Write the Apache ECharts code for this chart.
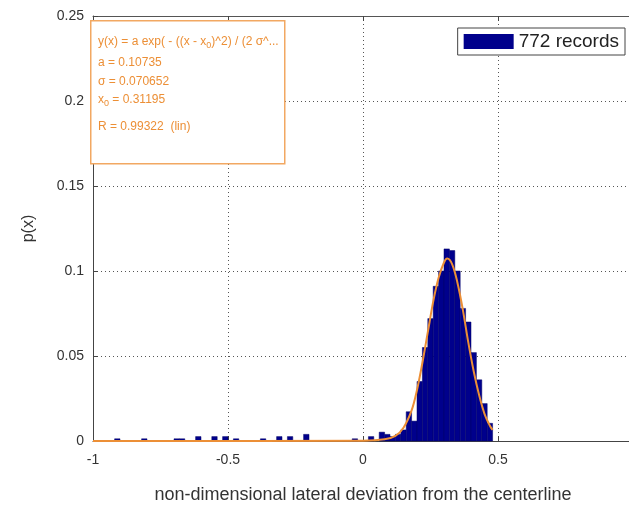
<!DOCTYPE html>
<html>
<head>
<meta charset="utf-8">
<script src="https://cdn.jsdelivr.net/npm/echarts@6/dist/echarts.min.js"></script>
<style>
html, body { margin: 0; padding: 0; background: #fff; }
#main { width: 629px; height: 505px; }
</style>
</head>
<body>
<div id="main"></div>
<script>
// histogram: left edge of each 0.02 wide bin and its probability
var binWidth = 0.02;
var binLeft = [-0.92, -0.82, -0.70, -0.68, -0.62, -0.56, -0.52, -0.48, -0.38, -0.32, -0.28, -0.22,
               -0.04, 0.02, 0.06, 0.08, 0.10, 0.12, 0.14, 0.16, 0.18, 0.20, 0.22, 0.24, 0.26,
               0.28, 0.30, 0.32, 0.34, 0.36, 0.38, 0.40, 0.42, 0.44, 0.46];
var binProb = [0.0013, 0.0013, 0.0013, 0.0013, 0.0026, 0.0026, 0.0026, 0.0013, 0.0013, 0.0026, 0.0026, 0.0039,
               0.0013, 0.0026, 0.0052, 0.0039, 0.0026, 0.0039, 0.0065, 0.0172, 0.0117, 0.035, 0.055, 0.072, 0.091,
               0.100, 0.113, 0.112, 0.100, 0.078, 0.070, 0.052, 0.036, 0.022, 0.0104];

// gaussian fit curve
var fitX = [-1, 0, 0.08, 0.12, 0.15, 0.18, 0.20, 0.22, 0.24, 0.26, 0.28, 0.30, 0.312,
            0.33, 0.35, 0.37, 0.39, 0.41, 0.43, 0.45, 0.47, 0.48];
var fitY = [0, 0.0002, 0.001, 0.003, 0.0078, 0.018, 0.030, 0.046, 0.064, 0.082, 0.096, 0.105, 0.1073,
            0.104, 0.093, 0.077, 0.058, 0.041, 0.027, 0.016, 0.009, 0.0065];

// fit annotation
var fitLines = [
    'y(x) = a exp( - ((x - x{s|0})^2) / (2 σ^...',
    'a = 0.10735',
    'σ = 0.070652',
    'x{s|0} = 0.31195',
    'R = 0.99322  (lin)'
];
var fitTops = [36, 57, 76, 94, 121];

var histName = '772 records';
var orange = '#ec8f36';
var navy = '#00008c';
var font = '"Liberation Sans", Arial, sans-serif';

var myChart = echarts.init(document.getElementById('main'));

var histData = binLeft.map(function (v, i) { return [v, binProb[i]]; });
var fitData = fitX.map(function (v, i) { return [v, fitY[i]]; });

var graphics = [{
    type: 'rect',
    left: 90, top: 20,
    shape: { width: 194, height: 143 },
    style: { fill: '#fff', stroke: '#f2a862', lineWidth: 1.5 },
    z: 100
}];
fitLines.forEach(function (t, i) {
    graphics.push({
        type: 'text',
        left: 98, top: fitTops[i],
        z: 101,
        style: {
            text: t,
            fill: orange,
            font: '12px ' + font,
            rich: { s: { fontSize: 9, fill: orange, fontFamily: font, padding: [8, 0, 0, 0] } }
        }
    });
});

var option = {
    backgroundColor: '#fff',
    animation: false,
    textStyle: { fontFamily: font },
    grid: { left: 93, right: -4, top: 16, bottom: 64, show: false, containLabel: false, outerBoundsMode: 'none' },
    legend: {
        data: [{ name: histName, icon: 'rect' }],
        right: 4, top: 28,
        itemWidth: 50, itemHeight: 15, itemGap: 4,
        padding: [4, 6, 4, 6],
        borderColor: '#444', borderWidth: 1,
        backgroundColor: '#fff',
        textStyle: { color: '#222', fontSize: 19, fontFamily: font }
    },
    xAxis: [{
        type: 'value', min: -1, max: 1, interval: 0.5,
        name: 'non-dimensional lateral deviation from the centerline',
        nameLocation: 'middle', nameGap: 45,
        nameTextStyle: { color: '#333', fontSize: 18 },
        axisLine: { show: true, onZero: false, lineStyle: { color: '#444' } },
        axisTick: { show: true, inside: true, length: 5, lineStyle: { color: '#444' } },
        axisLabel: { color: '#333', fontSize: 14, margin: 12 },
        splitLine: { show: true, lineStyle: { type: [1, 3], color: '#555' } }
    }, {
        type: 'value', min: -1, max: 1, interval: 0.5, position: 'top',
        axisLine: { show: true, onZero: false, lineStyle: { color: '#555' } },
        axisTick: { show: true, inside: true, length: 5, lineStyle: { color: '#444' } },
        axisLabel: { show: false },
        splitLine: { show: false }
    }],
    yAxis: {
        type: 'value', min: 0, max: 0.25, interval: 0.05,
        name: 'p(x)', nameLocation: 'middle', nameGap: 56, nameRotate: 90,
        nameTextStyle: { color: '#333', fontSize: 16 },
        axisLine: { show: true, onZero: false, lineStyle: { color: '#444' } },
        axisTick: { show: true, inside: true, length: 5, lineStyle: { color: '#444' } },
        axisLabel: { color: '#333', fontSize: 14, margin: 9 },
        splitLine: { show: true, lineStyle: { type: [1, 3], color: '#555' } }
    },
    graphic: graphics,
    series: [{
        name: histName,
        type: 'custom',
        itemStyle: { color: navy },
        data: histData,
        encode: { x: 0, y: 1 },
        renderItem: function (params, api) {
            var left = api.value(0);
            var top = api.coord([left, api.value(1)]);
            var bottom = api.coord([left + binWidth, 0]);
            return {
                type: 'rect',
                shape: { x: top[0], y: top[1], width: bottom[0] - top[0], height: bottom[1] - top[1] },
                style: { fill: navy, stroke: '#000066', lineWidth: 0.5 }
            };
        },
        z: 2
    }, {
        name: 'fit',
        type: 'line',
        data: fitData,
        smooth: 0.35,
        showSymbol: false,
        lineStyle: { color: orange, width: 2 },
        z: 3
    }]
};

myChart.setOption(option);
</script>
</body>
</html>
